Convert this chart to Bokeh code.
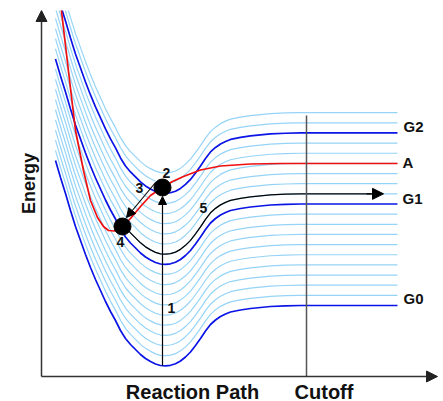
import numpy as np
from bokeh.plotting import figure
from bokeh.models import Range1d, Arrow, NormalHead
from bokeh.embed import file_html
from bokeh.resources import INLINE
from bokeh.core.properties import value

# ---- data (reaction path coordinate, energy) ----
path = [1.4, 1.9, 2.4, 2.9, 3.4, 3.9, 4.4, 4.9, 5.4, 5.9, 6.4, 6.9, 7.4, 7.9, 8.4, 8.9,
        9.4, 9.9, 10.4, 10.9, 11.4, 11.9, 12.4, 12.9, 13.4, 13.9, 14.4, 14.9, 15.4,
        15.9, 16.4, 16.9, 17.4, 17.9, 18.4, 18.9, 19.9, 20.9, 21.9, 22.9, 24.4, 25.9, 35.6]
g0_energy = [21.6, 19.9, 18.3, 16.6, 15.0, 13.6, 12.2, 10.9, 9.7, 8.6, 7.5, 6.5, 5.6,
             4.6, 3.8, 3.2, 2.7, 2.2, 1.8, 1.5, 1.25, 1.1, 1.07, 1.12, 1.27, 1.55, 1.95,
             2.45, 3.1, 3.8, 4.55, 5.2, 5.65, 6.0, 6.25, 6.45, 6.65, 6.8, 6.9, 7.0, 7.07,
             7.1, 7.1]

a_path = [1.9, 2.4, 2.9, 3.4, 3.8, 4.2, 4.9, 5.6, 6.2, 6.7, 7.3, 8.1, 8.9, 9.9, 10.9,
          12.1, 13.1, 14.2, 15.9, 17.9, 20.9, 23.9, 35.6]
a_energy = [37.4, 33.1, 28.8, 24.6, 22.6, 20.6, 17.6, 15.9, 15.0, 14.6, 14.55, 15.0,
            15.8, 17.0, 18.1, 18.9, 19.5, 20.0, 20.65, 21.05, 21.25, 21.3, 21.3]

level_step = 1.015
n_levels = 20
dark_levels = [0, 10, 17]
black_level = 11

dot_path = [12.1, 8.1]          # points 2 and 4
dot_energy = [18.9, 15.0]

cutoff_path = 26.5
cutoff_top = 26.1
black_end = 33.0
black_tip = 34.2

num_labels = ["2", "3", "4", "5", "1"]
num_x = [12.5, 9.8, 7.9, 16.2, 13.0]
num_y = [20.4, 18.9, 13.5, 16.9, 6.9]

g_labels = ["G2", "A", "G1", "G0"]
g_x = [36.2, 36.1, 36.1, 36.2]
g_y = [25.0, 21.4, 17.8, 7.8]

axis_labels = ["Reaction Path", "Cutoff"]
axis_label_x = [15.1, 28.25]

# ---- figure (page has no margin: frame spans the window) ----
W, H = 443, 401
p = figure(width=W, height=H, output_backend="svg", toolbar_location=None,
           x_range=Range1d(-4.1, 40.2), y_range=Range1d(-2.5, 36.6),
           min_border_left=0, min_border_right=0, min_border_bottom=0, min_border_top=10)
p.axis.visible = False
p.grid.visible = False
p.outline_line_color = None
p.background_fill_color = "white"

LIGHT = "#96d4f7"
DARK = "#0a14e6"
RED = "#f01010"
FONT = value("Liberation Sans")

path_a = np.array(path)
g0 = np.array(g0_energy)

light_xs, light_ys = [], []
for k in range(1, n_levels):
    if k in dark_levels:
        continue
    light_xs.append(list(path_a))
    light_ys.append(list(g0 + k * level_step))
p.multi_line(light_xs, light_ys, line_color=LIGHT, line_width=1.2)

for k in dark_levels:
    p.line(path_a, g0 + k * level_step, line_color=DARK, line_width=1.7)

# black curve (5) from point 4 onwards
mask = (path_a > dot_path[1]) & (path_a < black_end)
bx = [dot_path[1]] + list(path_a[mask]) + [black_end]
by = [dot_energy[1]] + list(g0[mask] + black_level * level_step) + [7.1 + black_level * level_step]
p.line(bx, by, line_color="black", line_width=1.3)
p.add_layout(Arrow(end=NormalHead(size=11, fill_color="black", line_color="black"),
                   x_start=black_end - 0.5, y_start=by[-1], x_end=black_tip, y_end=by[-1],
                   line_color="black", line_width=1.3))

# red curve A
p.line(a_path, a_energy, line_color=RED, line_width=1.7)

# cutoff line
p.line([cutoff_path, cutoff_path], [0, cutoff_top], line_color="#555555", line_width=1.5)

# axes with arrows
p.add_layout(Arrow(end=NormalHead(size=11, fill_color="#222222", line_color="#222222"),
                   x_start=0, y_start=0, x_end=0, y_end=36.6,
                   line_color="#333333", line_width=1.5))
p.add_layout(Arrow(end=NormalHead(size=11, fill_color="#222222", line_color="#222222"),
                   x_start=0, y_start=0, x_end=39.6, y_end=0,
                   line_color="#333333", line_width=1.5))

# transition 1 (vertical) and 3 (diagonal)
p.add_layout(Arrow(end=NormalHead(size=8, fill_color="black", line_color="black"),
                   x_start=dot_path[0], y_start=1.1, x_end=dot_path[0], y_end=18.0,
                   line_color="black", line_width=1.2))
p.add_layout(Arrow(end=NormalHead(size=9, fill_color="black", line_color="black"),
                   x_start=11.4, y_start=19.4, x_end=8.5, y_end=15.9,
                   line_color="black", line_width=1.1))

# points 2 and 4
p.scatter(dot_path, dot_energy, size=17, fill_color="black", line_color="black")

# labels
p.text(num_x, num_y, text=num_labels, text_font=FONT, text_font_style="bold",
       text_font_size="14px", text_align="center", text_baseline="middle", text_color="#111111")
p.text(g_x, g_y, text=g_labels, text_font=FONT, text_font_style="bold",
       text_font_size="15px", text_align="left", text_baseline="middle", text_color="#111111")
p.text(axis_label_x, [-1.5, -1.5], text=axis_labels, text_font=FONT,
       text_font_style="bold", text_font_size="20px", text_align="center",
       text_baseline="alphabetic", text_color="#111111")
p.text([-1.3], [19.3], text=["Energy"], angle=np.pi / 2, text_font=FONT,
       text_font_style="bold", text_font_size="18px", text_align="center",
       text_baseline="alphabetic", text_color="#111111")

open("out.html", "w").write(file_html(p, INLINE))
